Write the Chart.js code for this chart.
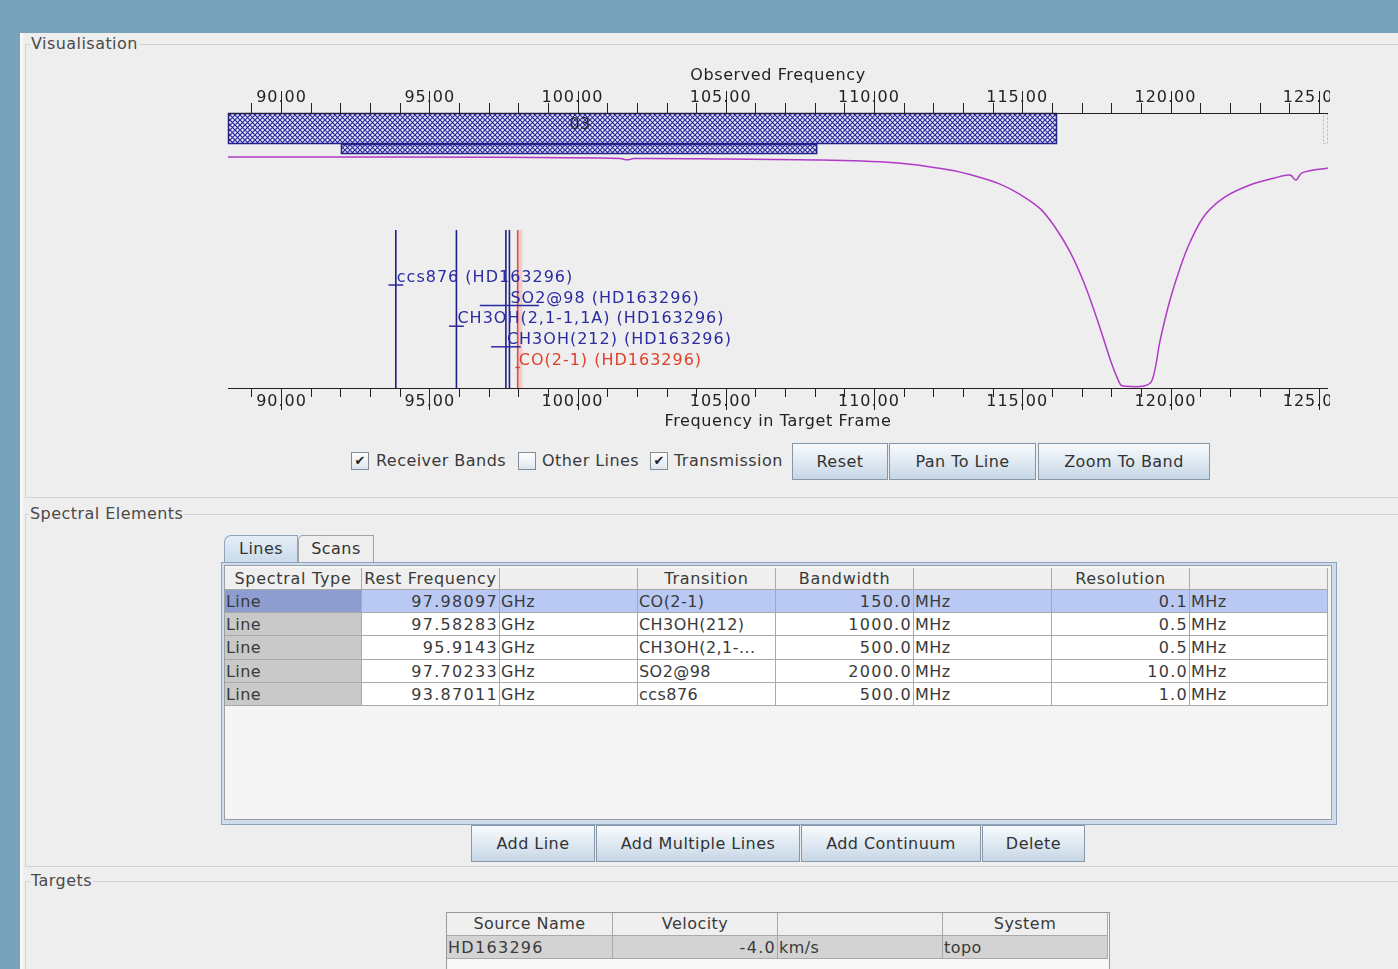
<!DOCTYPE html>
<html><head><meta charset="utf-8">
<script src="https://cdn.jsdelivr.net/npm/chart.js@4.4.1/dist/chart.umd.min.js"></script>
<style>
html,body{margin:0;padding:0;}
body{width:1398px;height:969px;position:relative;overflow:hidden;background:#eeeeee;font-family:"DejaVu Sans",sans-serif;font-size:16px;color:#333;letter-spacing:0.45px;}
#topbar{position:absolute;left:0;top:0;width:1398px;height:33px;background:#77a2b9;}
#leftbar{position:absolute;left:0;top:0;width:20px;height:969px;background:#77a2b9;}
#edge{position:absolute;left:20px;top:33px;width:3px;height:936px;background:#f8f8f8;}
.group{position:absolute;border:1px solid #cfd0dd;border-right:none;box-sizing:border-box;}
.gtitle{position:absolute;background:#eeeeee;padding:0 1px;line-height:18px;color:#4a4a4a;}
.btn{position:absolute;box-sizing:border-box;border:1px solid #8797a8;background:linear-gradient(#f8fbfd,#e2ebf3 45%,#c6d6e6);text-align:center;color:#333;}
.cb{position:absolute;box-sizing:border-box;width:18px;height:18px;border:1px solid #7f8c99;background:linear-gradient(#ffffff,#dfe6ee);font-size:13px;line-height:16px;text-align:center;color:#222;letter-spacing:0;}
.lbl{position:absolute;line-height:18px;color:#3a3a3a;white-space:nowrap;}
.cell{position:absolute;box-sizing:border-box;border-right:1px solid #a9a9a9;border-bottom:1px solid #a9a9a9;white-space:nowrap;overflow:hidden;padding:0 2px;color:#3a3a3a;}
.num{letter-spacing:1.3px;}
#chartbox{position:absolute;left:200px;top:60px;width:1130px;height:372px;}
</style></head>
<body>
<div id="topbar"></div><div id="leftbar"></div><div id="edge"></div>

<div class="group" style="left:25px;top:44px;width:1373px;height:454px;"></div>
<div class="gtitle" style="left:30px;top:35px;">Visualisation</div>
<div class="group" style="left:25px;top:514px;width:1373px;height:353px;"></div>
<div class="gtitle" style="left:29px;top:505px;">Spectral Elements</div>
<div class="group" style="left:25px;top:881px;width:1373px;height:100px;"></div>
<div class="gtitle" style="left:30px;top:872px;">Targets</div>

<div id="chartbox"><canvas id="c" width="1130" height="372"></canvas></div>

<div id="controls"></div>
<div id="spectable"></div>
<div id="targettable"></div>

<script>
// ---------- data ----------
const axisMinGHz = 88.21, axisMaxGHz = 125.31;
const minorTicks = [89,90,91,92,93,94,95,96,97,98,99,100,101,102,103,104,105,106,107,108,109,110,111,112,113,114,115,116,117,118,119,120,121,122,123,124,125];
const majorTicks = [90,95,100,105,110,115,120,125];
const tickLabels = ["90.00","95.00","100.00","105.00","110.00","115.00","120.00","125.00"];

const bandNames = ["03",""];
const bandLowGHz = [84.0, 92.02];
const bandHighGHz = [116.17, 108.08];

const transFreq  = [88.21, 94.0, 100.8, 101.45, 101.67, 101.9, 105.0, 108.2, 110.9, 112.56, 113.41, 114.25, 114.92, 115.60, 116.10, 116.61, 117.11, 117.62, 118.03, 118.30, 118.40, 119.10, 119.38, 119.65, 119.98, 120.32, 120.66, 121.16, 121.84, 122.68, 123.52, 124.03, 124.23, 124.43, 125.31];
const transValue = [0.962, 0.962, 0.958, 0.955, 0.950, 0.955, 0.953, 0.949, 0.936, 0.907, 0.882, 0.848, 0.805, 0.745, 0.668, 0.563, 0.424, 0.244, 0.088, 0.008, 0.0, 0.0, 0.025, 0.193, 0.361, 0.496, 0.605, 0.718, 0.794, 0.844, 0.874, 0.886, 0.865, 0.895, 0.916];

const lineNames = ["ccs876","SO2@98","CH3OH(2,1-1,1A)","CH3OH(212)","CO(2-1)"];
const lineFreqGHz = [93.87011, 97.70233, 95.9143, 97.58283, 97.98097];
const lineBandwidthMHz = [500, 2000, 500, 1000, 150];
const lineSelected = [false,false,false,false,true];
const sourceName = "HD163296";

// table data
const specHeaders = ["Spectral Type","Rest Frequency","","Transition","Bandwidth","","Resolution",""];
const specType = ["Line","Line","Line","Line","Line"];
const restFreq = ["97.98097","97.58283","95.9143","97.70233","93.87011"];
const transitionCol = ["CO(2-1)","CH3OH(212)","CH3OH(2,1-...","SO2@98","ccs876"];
const bandwidthCol = ["150.0","1000.0","500.0","2000.0","500.0"];
const resolutionCol = ["0.1","0.5","0.5","10.0","1.0"];
const targetHeaders = ["Source Name","Velocity","","System"];
const targetNames = ["HD163296"];
const targetVelocity = ["-4.0"];
const targetSystem = ["topo"];

// ---------- chart ----------
const yMin = -0.0084, yMax = 1.1466, lineTop = 0.655;
const FONT = '16px "DejaVu Sans", sans-serif';

function makePattern(ctx){
  const p = document.createElement('canvas'); p.width = 5; p.height = 5;
  const c = p.getContext('2d');
  c.fillStyle = '#e6e6f6'; c.fillRect(0,0,5,5);
  c.strokeStyle = '#24249a'; c.lineWidth = 1.1;
  c.beginPath(); c.moveTo(-1,-1); c.lineTo(6,6); c.moveTo(6,-1); c.lineTo(-1,6); c.stroke();
  return ctx.createPattern(p,'repeat');
}

const vizPlugin = {
  id:'viz',
  beforeDatasetsDraw(chart){
    const ctx = chart.ctx, ca = chart.chartArea, xs = chart.scales.x2;
    const pat = makePattern(ctx);
    const rows = [[0,31],[31,10]];
    ctx.save();
    bandLowGHz.forEach((lo,i)=>{
      const x1 = Math.max(ca.left, xs.getPixelForValue(lo));
      const x2 = Math.min(ca.right, xs.getPixelForValue(bandHighGHz[i]));
      const y = ca.top + rows[i][0], h = rows[i][1];
      ctx.fillStyle = pat; ctx.fillRect(x1,y,x2-x1,h);
      ctx.strokeStyle = '#22228a'; ctx.lineWidth = 1.5; ctx.strokeRect(x1+0.5,y+0.5,x2-x1-1,h-1);
      if (bandNames[i]) {
        const cx = xs.getPixelForValue((lo+bandHighGHz[i])/2);
        ctx.font = FONT; ctx.fillStyle = '#2a2a2a'; ctx.textAlign='center'; ctx.textBaseline='middle';
        ctx.fillText(bandNames[i], cx, y + 12);
      }
    });
    ctx.setLineDash([2,2]); ctx.strokeStyle='#b8b8b8'; ctx.lineWidth=1;
    ctx.strokeRect(ca.right-4.5, ca.top+0.5, 4, 30);
    ctx.setLineDash([]);
    ctx.restore();
  },
  afterDatasetsDraw(chart){
    const ctx = chart.ctx, ca = chart.chartArea, xb = chart.scales.x, xt = chart.scales.x2;
    ctx.save();
    ctx.font = FONT; ctx.fillStyle = '#222'; ctx.strokeStyle = '#222'; ctx.lineWidth = 1;
    ctx.textBaseline = 'middle';
    const midX = (ca.left + ca.right)/2;
    function tickLabel(lbl, x, y){
      ctx.letterSpacing = '1px';
      ctx.textAlign = 'left';
      const ip = lbl.split('.')[0];
      const w1 = ctx.measureText(ip).width;
      const wd = ctx.measureText('.').width;
      ctx.fillText(lbl, x - w1 - wd/2 + 0.5, y);
    }
    // top axis
    ctx.beginPath(); ctx.moveTo(ca.left, ca.top+0.5); ctx.lineTo(ca.right, ca.top+0.5); ctx.stroke();
    majorTicks.forEach((v,i)=> tickLabel(tickLabels[i], xt.getPixelForValue(v), ca.top-15));
    minorTicks.forEach(v=>{
      const x = Math.round(xt.getPixelForValue(v))+0.5;
      const len = majorTicks.includes(v) ? 22 : 10;
      ctx.beginPath(); ctx.moveTo(x, ca.top); ctx.lineTo(x, ca.top-len); ctx.stroke();
    });
    ctx.letterSpacing = '0.6px'; ctx.textAlign = 'center';
    ctx.fillText('Observed Frequency', midX, 16);
    // bottom axis
    const yb = ca.bottom + 0.5;
    ctx.beginPath(); ctx.moveTo(ca.left, yb); ctx.lineTo(ca.right, yb); ctx.stroke();
    majorTicks.forEach((v,i)=> tickLabel(tickLabels[i], xb.getPixelForValue(v), ca.bottom+14));
    minorTicks.forEach(v=>{
      const x = Math.round(xb.getPixelForValue(v))+0.5;
      const len = majorTicks.includes(v) ? 22 : 9;
      ctx.beginPath(); ctx.moveTo(x, ca.bottom); ctx.lineTo(x, ca.bottom+len); ctx.stroke();
    });
    ctx.letterSpacing = '0.6px'; ctx.textAlign = 'center';
    ctx.fillText('Frequency in Target Frame', midX, ca.bottom+34);
    // line labels
    ctx.letterSpacing = '1px';
    ctx.textAlign = 'left';
    lineNames.forEach((n,i)=>{
      const f = lineFreqGHz[i];
      const x = xb.getPixelForValue(f);
      const cy = ca.top + 165 + i*20.6;
      const col = lineSelected[i] ? '#e0402c' : '#2b2ba2';
      ctx.fillStyle = col; ctx.strokeStyle = col; ctx.lineWidth = 1.5;
      ctx.fillText(n + ' (' + sourceName + ')', x + 1, cy);
      const half = lineBandwidthMHz[i]/2000;
      ctx.beginPath(); ctx.moveTo(xb.getPixelForValue(f-half), cy+7); ctx.lineTo(xb.getPixelForValue(f+half), cy+7); ctx.stroke();
    });
    ctx.restore();
  }
};

const datasets = [
  {label:'Transmission', data: transFreq.map((f,i)=>({x:f,y:transValue[i]})), borderColor:'#b03ac6', borderWidth:1.5, pointRadius:0, tension:0.35}
];
lineFreqGHz.forEach((f,i)=>{
  if (lineSelected[i]) datasets.push({label:lineNames[i]+' glow', data:[{x:f+0.07,y:yMin},{x:f+0.07,y:lineTop}], borderColor:'rgba(245,140,140,0.35)', borderWidth:5, pointRadius:0});
  datasets.push({label:lineNames[i], data:[{x:f,y:yMin},{x:f,y:lineTop}], borderColor: lineSelected[i] ? '#e0321e' : '#1d1d8c', borderWidth:1.6, pointRadius:0});
});

new Chart(document.getElementById('c'), {
  type:'line',
  data:{datasets},
  options:{
    responsive:false, animation:false, events:[],
    layout:{padding:{left:28,right:2,top:53,bottom:44}},
    plugins:{legend:{display:false}, tooltip:{enabled:false}},
    scales:{
      x:{type:'linear', min:axisMinGHz, max:axisMaxGHz, display:false},
      x2:{type:'linear', min:axisMinGHz, max:axisMaxGHz, display:false, position:'top'},
      y:{min:yMin, max:yMax, display:false}
    }
  },
  plugins:[vizPlugin]
});

// ---------- UI widgets ----------
function el(parent, cls, style, text){
  const d = document.createElement('div'); if (cls) d.className = cls;
  d.style.cssText = style; if (text !== undefined) d.textContent = text;
  parent.appendChild(d); return d;
}
const ctl = document.getElementById('controls');
const checks = [["Receiver Bands",true,351,376],["Other Lines",false,518,542],["Transmission",true,650,674]];
checks.forEach(c=>{
  el(ctl,'cb',`left:${c[2]}px;top:452px;`, c[1] ? '✔' : '');
  el(ctl,'lbl',`left:${c[3]}px;top:452px;`, c[0]);
});
const topBtns = [["Reset",792,888],["Pan To Line",889,1036],["Zoom To Band",1038,1210]];
topBtns.forEach(b=> el(ctl,'btn',`left:${b[1]}px;top:443px;width:${b[2]-b[1]}px;height:37px;line-height:35px;`, b[0]));
const botBtns = [["Add Line",471,595],["Add Multiple Lines",596,800],["Add Continuum",801,981],["Delete",982,1085]];
botBtns.forEach(b=> el(ctl,'btn',`left:${b[1]}px;top:825px;width:${b[2]-b[1]}px;height:37px;line-height:35px;`, b[0]));

// tabs
el(ctl,'',`position:absolute;left:224px;top:535px;width:74px;height:28px;box-sizing:border-box;border:1px solid #8fa5bd;border-bottom:none;border-radius:7px 0 0 0;background:linear-gradient(#e4edf6,#c9dbec);line-height:26px;text-align:center;color:#333;`,'Lines');
el(ctl,'',`position:absolute;left:298px;top:535px;width:76px;height:27px;box-sizing:border-box;border:1px solid #a3a3a3;border-bottom:none;border-radius:5px 0 0 0;background:#eeeeee;line-height:26px;text-align:center;color:#333;`,'Scans');

// spectral table
const st = document.getElementById('spectable');
el(st,'',`position:absolute;left:221px;top:562px;width:1116px;height:263px;box-sizing:border-box;border:1px solid #8ea4bc;background:#cfdceb;`);
el(st,'',`position:absolute;left:224px;top:565px;width:1108px;height:255px;box-sizing:border-box;border:1px solid #9aa0a8;background:#f5f5f5;`);
const colX = [225,362,500,638,776,914,1052,1190,1328];
const align = ['left','right','left','left','right','left','right','left'];
const numeric = [false,true,false,false,true,false,true,false];
specHeaders.forEach((h,j)=>{
  el(st,'cell',`left:${colX[j]}px;top:568px;width:${colX[j+1]-colX[j]}px;height:22px;line-height:21px;text-align:center;background:#efefef;letter-spacing:0.7px;`, h);
});
const rowY = [590,613,636,660,683,706];
for (let i=0;i<specType.length;i++){
  const vals = [specType[i], restFreq[i], 'GHz', transitionCol[i], bandwidthCol[i], 'MHz', resolutionCol[i], 'MHz'];
  const sel = i===0;
  vals.forEach((v,j)=>{
    let bg = sel ? '#b9c9f4' : '#ffffff';
    if (j===0) bg = sel ? '#8d9dd0' : '#c9c9c9';
    el(st,'cell' + (numeric[j] ? ' num' : ''),`left:${colX[j]}px;top:${rowY[i]}px;width:${colX[j+1]-colX[j]}px;height:${rowY[i+1]-rowY[i]}px;line-height:${rowY[i+1]-rowY[i]}px;text-align:${align[j]};background:${bg};padding:0 ${numeric[j]?1:2}px 0 1px;`, v);
  });
}

// target table
const tt = document.getElementById('targettable');
el(tt,'',`position:absolute;left:446px;top:912px;width:664px;height:80px;box-sizing:border-box;border:1px solid #9a9a9a;background:#f8f8f8;`);
const tX = [447,613,778,943,1108];
targetHeaders.forEach((h,j)=>{
  el(tt,'cell',`left:${tX[j]}px;top:913px;width:${tX[j+1]-tX[j]}px;height:23px;line-height:22px;text-align:center;background:#efefef;`, h);
});
for (let i=0;i<targetNames.length;i++){
  const vals = [targetNames[i], targetVelocity[i], 'km/s', targetSystem[i]];
  const al = ['left','right','left','left'];
  vals.forEach((v,j)=>{
    el(tt,'cell' + ((j===0||j===1)?' num':''),`left:${tX[j]}px;top:936px;width:${tX[j+1]-tX[j]}px;height:23px;line-height:23px;text-align:${al[j]};background:#d3d3d3;padding:0 1px;`, v);
  });
}
</script>
</body></html>
